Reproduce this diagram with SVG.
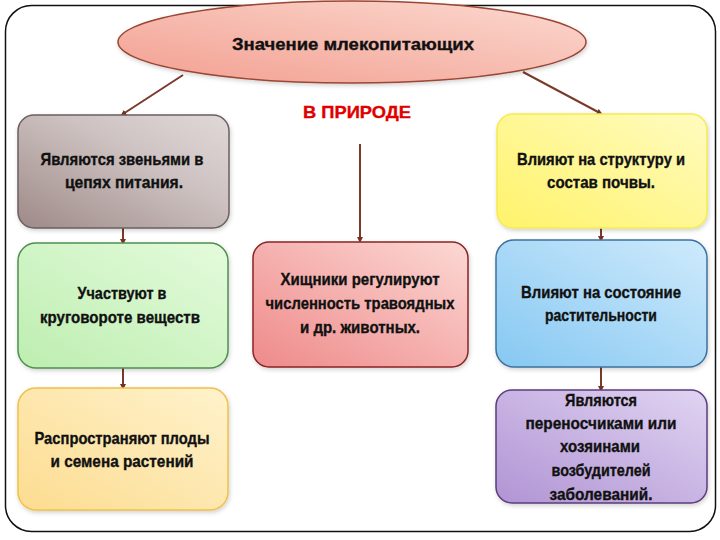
<svg xmlns="http://www.w3.org/2000/svg" width="720" height="540" viewBox="0 0 720 540">
<defs>
<linearGradient id="gEll" x1="0" y1="1" x2="1" y2="0"><stop offset="0" stop-color="#f29f90"/><stop offset="1" stop-color="#fcd9d0"/></linearGradient>
<linearGradient id="gGray" x1="0" y1="1" x2="1" y2="0"><stop offset="0" stop-color="#9e8a88"/><stop offset="0.6" stop-color="#cdc2c1"/><stop offset="1" stop-color="#e0d9d8"/></linearGradient>
<linearGradient id="gYel" x1="0" y1="1" x2="1" y2="0"><stop offset="0" stop-color="#fff36a"/><stop offset="1" stop-color="#fffbc0"/></linearGradient>
<linearGradient id="gGrn" x1="0" y1="1" x2="1" y2="0"><stop offset="0" stop-color="#bdeeb0"/><stop offset="1" stop-color="#e4fbdc"/></linearGradient>
<linearGradient id="gPnk" x1="0" y1="1" x2="1" y2="0"><stop offset="0" stop-color="#ee8a8a"/><stop offset="1" stop-color="#fcd8d4"/></linearGradient>
<linearGradient id="gBlu" x1="0" y1="1" x2="1" y2="0"><stop offset="0" stop-color="#86c8f2"/><stop offset="1" stop-color="#cfeafc"/></linearGradient>
<linearGradient id="gOrg" x1="0" y1="1" x2="1" y2="0"><stop offset="0" stop-color="#fcdc90"/><stop offset="1" stop-color="#fff2cc"/></linearGradient>
<linearGradient id="gPur" x1="0" y1="1" x2="1" y2="0"><stop offset="0" stop-color="#b194d4"/><stop offset="1" stop-color="#e0d4f2"/></linearGradient>
<filter id="sh" x="-10%" y="-10%" width="120%" height="125%"><feDropShadow dx="1" dy="2" stdDeviation="2" flood-color="#000" flood-opacity="0.18"/></filter>
<marker id="dot" viewBox="0 0 6 6" refX="3" refY="3" markerWidth="3" markerHeight="3" orient="auto"><path d="M0,0 L6,3 L0,6 z" fill="#7a3020"/></marker>
</defs>
<style>
.t{font-family:"Liberation Sans",Arial,sans-serif;font-weight:bold;font-size:17px;fill:#111;stroke:#111;stroke-width:0.35;text-anchor:middle}
.c{stroke:#7a3a2a;stroke-width:2;fill:none;marker-end:url(#dot)}
.b{stroke-width:1.5}
</style>
<rect x="5.5" y="5.5" width="710" height="526" rx="26" fill="#fff" stroke="#111" stroke-width="1.5"/>
<g id="connectors">
<line class="c" x1="183" y1="75" x2="123" y2="114"/>
<line class="c" x1="523" y1="72" x2="600" y2="113"/>
<line class="c" x1="360" y1="144" x2="360" y2="240"/>
<line class="c" x1="123" y1="228" x2="123" y2="242"/>
<line class="c" x1="123" y1="368" x2="123" y2="387"/>
<line class="c" x1="601" y1="228" x2="601" y2="239"/>
<line class="c" x1="601" y1="367" x2="601" y2="389"/>
</g>
<g id="title">
<ellipse cx="352" cy="42" rx="234" ry="41" fill="url(#gEll)" stroke="#9a4634" stroke-width="1.5" filter="url(#sh)"/>
<text class="t" x="353" y="50" font-size="21" textLength="242" lengthAdjust="spacingAndGlyphs">Значение млекопитающих</text>
</g>
<g id="subtitle">
<text class="t" x="357" y="118" font-size="22" style="fill:#e00000;stroke:#e00000" textLength="108" lengthAdjust="spacingAndGlyphs">В ПРИРОДЕ</text>
</g>
<g id="n1">
<rect class="b" x="18" y="115" width="211" height="113" rx="16" fill="url(#gGray)" stroke="#6a6060" filter="url(#sh)"/>
<text class="t" x="122" y="165" textLength="163" lengthAdjust="spacingAndGlyphs">Являются звеньями в</text>
<text class="t" x="124" y="188" textLength="118" lengthAdjust="spacingAndGlyphs">цепях питания.</text>
</g>
<g id="n2">
<rect class="b" x="497" y="114" width="210" height="114" rx="16" fill="url(#gYel)" stroke="#f4ec50" filter="url(#sh)"/>
<text class="t" x="601" y="165" textLength="168" lengthAdjust="spacingAndGlyphs">Влияют на структуру и</text>
<text class="t" x="601" y="188" textLength="108" lengthAdjust="spacingAndGlyphs">состав почвы.</text>
</g>
<g id="n3">
<rect class="b" x="18" y="243" width="210" height="125" rx="18" fill="url(#gGrn)" stroke="#4f8f4f" filter="url(#sh)"/>
<text class="t" x="122" y="299" textLength="89" lengthAdjust="spacingAndGlyphs">Участвуют в</text>
<text class="t" x="120" y="323" textLength="160" lengthAdjust="spacingAndGlyphs">круговороте веществ</text>
</g>
<g id="n4">
<rect class="b" x="253" y="242" width="215" height="125" rx="16" fill="url(#gPnk)" stroke="#8a2424" filter="url(#sh)"/>
<text class="t" x="360" y="285" textLength="159" lengthAdjust="spacingAndGlyphs">Хищники регулируют</text>
<text class="t" x="360" y="309" textLength="189" lengthAdjust="spacingAndGlyphs">численность травоядных</text>
<text class="t" x="360" y="333" textLength="120" lengthAdjust="spacingAndGlyphs">и др. животных.</text>
</g>
<g id="n5">
<rect class="b" x="496" y="240" width="211" height="127" rx="18" fill="url(#gBlu)" stroke="#3e719c" filter="url(#sh)"/>
<text class="t" x="601" y="298" textLength="160" lengthAdjust="spacingAndGlyphs">Влияют на состояние</text>
<text class="t" x="601" y="321" textLength="112" lengthAdjust="spacingAndGlyphs">растительности</text>
</g>
<g id="n6">
<rect class="b" x="18" y="388" width="210" height="122" rx="18" fill="url(#gOrg)" stroke="#f0c048" filter="url(#sh)"/>
<text class="t" x="122" y="444" textLength="175" lengthAdjust="spacingAndGlyphs">Распространяют плоды</text>
<text class="t" x="122" y="467" textLength="143" lengthAdjust="spacingAndGlyphs">и семена растений</text>
</g>
<g id="n7">
<rect class="b" x="496" y="390" width="211" height="113" rx="16" fill="url(#gPur)" stroke="#5a3c7c" filter="url(#sh)"/>
<text class="t" x="601" y="406" textLength="72" lengthAdjust="spacingAndGlyphs">Являются</text>
<text class="t" x="601" y="429" textLength="151" lengthAdjust="spacingAndGlyphs">переносчиками или</text>
<text class="t" x="600" y="452" textLength="80" lengthAdjust="spacingAndGlyphs">хозяинами</text>
<text class="t" x="601" y="476" textLength="99" lengthAdjust="spacingAndGlyphs">возбудителей</text>
<text class="t" x="601" y="500" textLength="103" lengthAdjust="spacingAndGlyphs">заболеваний.</text>
</g>
</svg>
